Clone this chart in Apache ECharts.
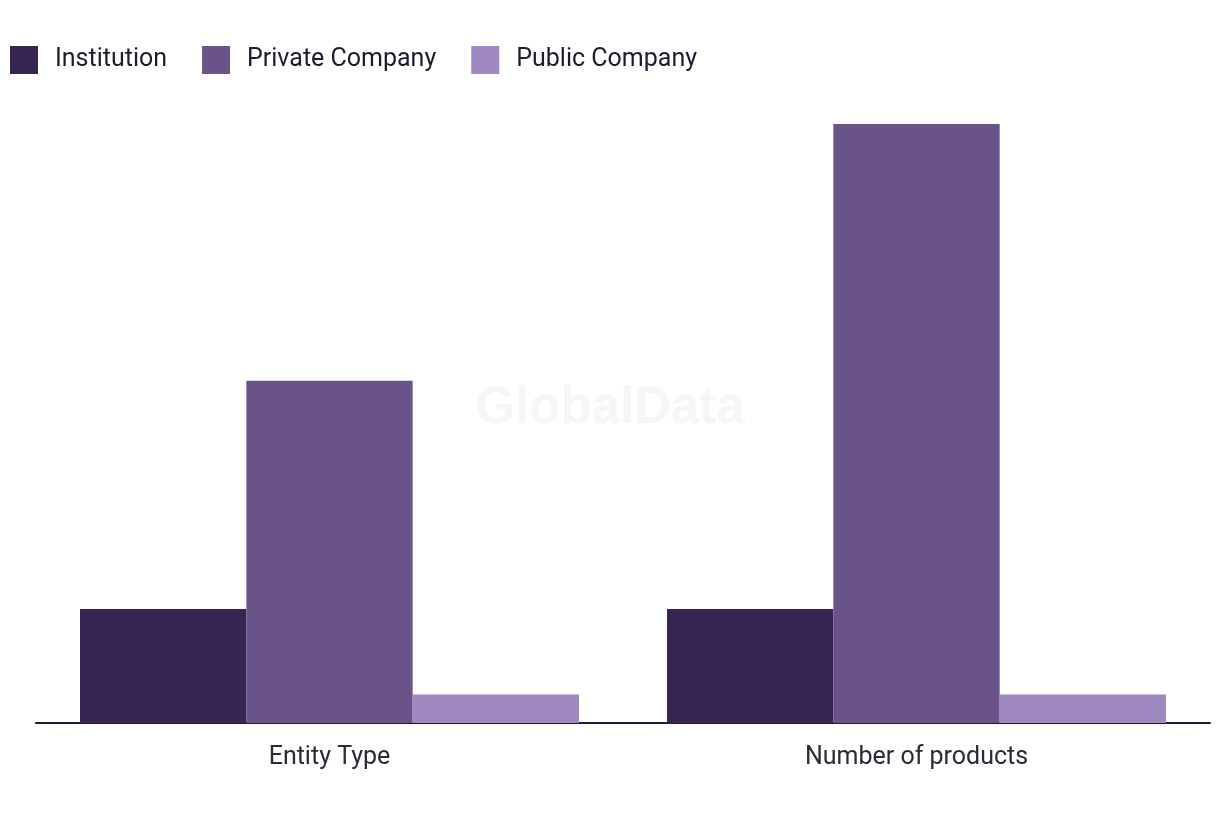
<!DOCTYPE html>
<html>
<head>
<meta charset="utf-8">
<script src="https://cdn.jsdelivr.net/npm/echarts@6/dist/echarts.min.js"></script>
<style>html,body{margin:0;padding:0;background:#fff}#c{width:1220px;height:820px}</style>
</head>
<body>
<div id="c"></div>
<script>
var categories = ['Entity Type', 'Number of products'];
var seriesNames = ['Institution', 'Private Company', 'Public Company'];
var institution = [4, 4];
var privateCompany = [12, 21];
var publicCompany = [1, 1];
var colors = ['#362452', '#6a5389', '#a088c0'];

var chart = echarts.init(document.getElementById('c'));
var font = 'Roboto, "Noto Sans", sans-serif';
var values = [institution, privateCompany, publicCompany];
chart.setOption({
  animation: false,
  color: colors,
  legend: {
    left: 10, top: 46,
    itemWidth: 28, itemHeight: 28, itemGap: 35,
    icon: 'rect',
    padding: 0,
    textStyle: { fontSize: 25, color: '#1c1c2e', fontFamily: font, padding: [0, 0, 0, 12] },
    data: seriesNames
  },
  graphic: [{
    type: 'text', left: 'center', top: 383, z: -1,
    style: { text: 'GlobalData', fontSize: 51, fontWeight: 'bold', fill: '#f6f6f6', fontFamily: 'Liberation Sans, Arial, sans-serif' }
  }],
  grid: { left: 36, right: 10, top: 124, bottom: 97, containLabel: false },
  xAxis: {
    type: 'category', data: categories,
    axisLine: { lineStyle: { color: '#1c1c2e', width: 2 } },
    axisTick: { show: false },
    axisLabel: { fontSize: 25, color: '#2a2a38', fontFamily: font, margin: 22 }
  },
  yAxis: { type: 'value', min: 0, max: 21, show: false, splitLine: { show: false } },
  series: seriesNames.map(function (n, i) {
    return { name: n, type: 'bar', data: values[i], barGap: '0%', barCategoryGap: '15%' };
  })
});
</script>
</body>
</html>
